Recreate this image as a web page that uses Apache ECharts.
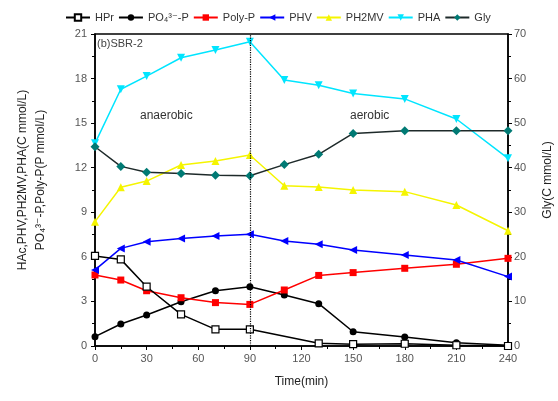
<!DOCTYPE html>
<html lang="en">
<head>
  <meta charset="UTF-8">
  <title>SBR-2</title>
  <script src="https://cdn.jsdelivr.net/npm/echarts@6/dist/echarts.min.js"></script>
  <style>
    html, body { margin: 0; padding: 0; background: #fff; }
    #main { width: 558px; height: 401px; }
  </style>
</head>
<body>
  <div id="main"></div>
  <script type="text/javascript">
    // time points (min)
    var times = [0, 15, 30, 50, 70, 90, 110, 130, 150, 180, 210, 240];
    var xTicks = [0, 30, 60, 90, 120, 150, 180, 210, 240];

    // left axis series
    var hpr   = [6.06, 5.83, 3.99, 2.13, 1.12, 1.12, null, 0.18, 0.12, 0.15, 0.05, 0.0];
    var po4   = [0.63, 1.48, 2.09, 2.98, 3.72, 3.99, 3.43, 2.85, 0.96, 0.60, 0.22, 0.05];
    var polyP = [4.78, 4.44, 3.72, 3.25, 2.92, 2.80, 3.77, 4.75, 4.94, 5.23, 5.50, 5.90];
    var phv   = [5.12, 6.57, 7.02, 7.24, 7.40, 7.52, 7.07, 6.85, 6.46, 6.12, 5.79, 4.67];
    var ph2mv = [8.37, 10.68, 11.10, 12.18, 12.45, 12.86, 10.79, 10.70, 10.50, 10.39, 9.49, 7.76];
    var pha   = [13.64, 17.28, 18.17, 19.40, 19.92, 20.48, 17.90, 17.55, 17.00, 16.63, 15.28, 12.63];
    // right axis series
    var gly   = [44.7, 40.3, 39.0, 38.7, 38.3, 38.2, 40.7, 43.0, 47.7, 48.3, 48.3, 48.3];

    function pairs(vals) {
      var out = [];
      for (var i = 0; i < times.length; i++) {
        if (vals[i] !== null) out.push([times[i], vals[i]]);
      }
      return out;
    }

    var font = 'Liberation Sans, Arial, DejaVu Sans, sans-serif';
    var myChart = echarts.init(document.getElementById('main'), null, { renderer: 'canvas' });

    function line(name, data, color, symbol, opts) {
      opts = opts || {};
      return {
        name: name,
        type: 'line',
        yAxisIndex: opts.yAxisIndex || 0,
        data: pairs(data),
        symbol: symbol,
        symbolSize: opts.size || 7,
        symbolRotate: opts.rotate || 0,
        showAllSymbol: true,
        connectNulls: true,
        animation: false,
        lineStyle: { color: opts.lineColor || color, width: 1.5, type: opts.dash || 'solid' },
        itemStyle: {
          color: opts.fill || color,
          borderColor: color,
          borderWidth: opts.fill ? 1.2 : 0
        },
        markLine: opts.markLine,
        z: opts.z || 2
      };
    }

    var option = {
      backgroundColor: '#fff',
      textStyle: { fontFamily: font },
      legend: {
        top: 7,
        left: 60,
        itemWidth: 24,
        itemHeight: 8,
        itemGap: 4,
        textStyle: { fontSize: 11, color: '#333', fontFamily: font },
        data: ['HPr', 'PO₄³⁻-P', 'Poly-P', 'PHV', 'PH2MV', 'PHA', 'Gly']
      },
      grid: {
        left: 95, right: 50, top: 34, bottom: 55,
        outerBoundsMode: 'none',
        show: true, borderColor: '#000', borderWidth: 1.5
      },
      xAxis: {
        type: 'value',
        min: 0, max: 240, interval: 30,
        name: 'Time(min)',
        nameLocation: 'middle',
        nameGap: 30,
        nameTextStyle: { fontSize: 12, color: '#222' },
        axisLine: { lineStyle: { color: '#000', width: 1.5 } },
        axisTick: { length: 4, lineStyle: { color: '#000' } },
        minorTick: { show: true, splitNumber: 2, length: 3, lineStyle: { color: '#000' } },
        splitLine: { show: false },
        axisLabel: { fontSize: 11, color: '#555', margin: 7,
          formatter: function (v) { return xTicks.indexOf(v) >= 0 ? String(v) : ''; } }
      },
      yAxis: [{
        type: 'value',
        min: 0, max: 21, interval: 3,
        name: 'HAc,PHV,PH2MV,PHA(C mmol/L)\nPO₄³⁻-P,Poly-P(P mmol/L)',
        nameLocation: 'middle',
        nameGap: 45,
        nameTextStyle: { fontSize: 12, color: '#222', lineHeight: 18, padding: [0, 0, 0, 20] },
        axisLine: { show: true, lineStyle: { color: '#000', width: 1.5 } },
        axisTick: { show: true, length: 4, lineStyle: { color: '#000' } },
        minorTick: { show: true, splitNumber: 2, length: 3, lineStyle: { color: '#000' } },
        splitLine: { show: false },
        axisLabel: { fontSize: 11, color: '#555', margin: 8 }
      }, {
        type: 'value',
        position: 'right',
        min: 0, max: 70, interval: 10,
        name: 'Gly(C mmol/L)',
        nameLocation: 'middle',
        nameGap: 34,
        nameTextStyle: { fontSize: 12, color: '#222', padding: [0, 0, 0, 20] },
        axisLine: { show: true, lineStyle: { color: '#000', width: 1.5 } },
        axisTick: { show: true, length: 4, lineStyle: { color: '#000' } },
        minorTick: { show: true, splitNumber: 2, length: 3, lineStyle: { color: '#000' } },
        splitLine: { show: false },
        axisLabel: { fontSize: 11, color: '#555', margin: 6 }
      }],
      graphic: [
        { type: 'text', left: 97, top: 38, style: { text: '(b)SBR-2', fontSize: 11, fill: '#444', fontFamily: font } },
        { type: 'text', left: 140, top: 110, style: { text: 'anaerobic', fontSize: 12, fill: '#333', fontFamily: font } },
        { type: 'text', left: 350, top: 110, style: { text: 'aerobic', fontSize: 12, fill: '#333', fontFamily: font } }
      ],
      series: [
        line('HPr', hpr, '#000', 'rect', { fill: '#fff', size: 7, z: 3,
          markLine: {
            silent: true, symbol: 'none', animation: false,
            label: { show: false },
            lineStyle: { color: '#000', type: 'dotted', width: 1.2 },
            data: [{ xAxis: 90 }]
          } }),
        line('PO₄³⁻-P', po4, '#000', 'circle', { size: 7 }),
        line('Poly-P', polyP, '#ff0000', 'rect', { size: 7 }),
        line('PHV', phv, '#0000ff', 'triangle', { rotate: 90, size: 8 }),
        line('PH2MV', ph2mv, '#f5f500', 'triangle', { size: 8 }),
        line('PHA', pha, '#00e5ff', 'triangle', { rotate: 180, size: 8 }),
        line('Gly', gly, '#007a74', 'diamond', { yAxisIndex: 1, size: 9, lineColor: '#1e2a2a' })
      ]
    };

    myChart.setOption(option);
  </script>
</body>
</html>
